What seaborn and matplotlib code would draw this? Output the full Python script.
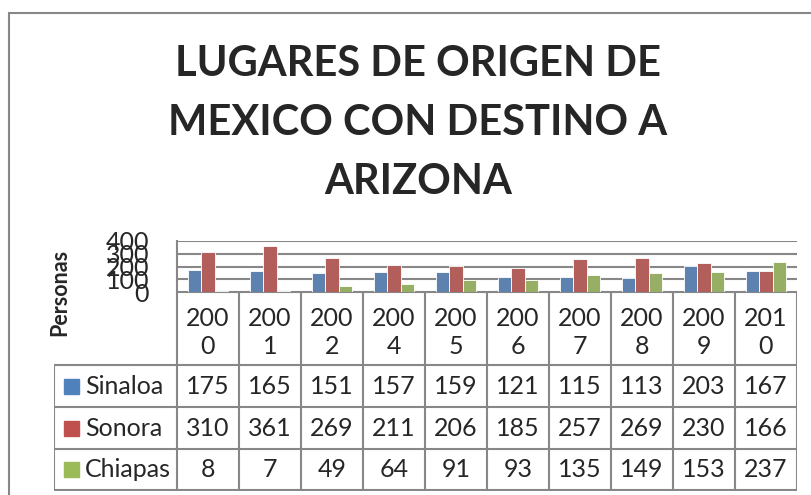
import matplotlib
matplotlib.use("Agg")
import matplotlib.pyplot as plt
from matplotlib.lines import Line2D
from matplotlib.patches import Rectangle
import pandas as pd
import seaborn as sns

# data
years = ["2000", "2001", "2002", "2004", "2005", "2006", "2007", "2008", "2009", "2010"]
estados = ["Sinaloa", "Sonora", "Chiapas"]
sinaloa = [175, 165, 151, 157, 159, 121, 115, 113, 203, 167]
sonora = [310, 361, 269, 211, 206, 185, 257, 269, 230, 166]
chiapas = [8, 7, 49, 64, 91, 93, 135, 149, 153, 237]
colores = ["#4F81BD", "#C0504D", "#9BBB59"]

df = pd.DataFrame({"Año": years * 3,
                   "Estado": [e for e in estados for _ in years],
                   "Personas": sinaloa + sonora + chiapas})

sns.set_theme(style="white")
plt.rcParams['font.family'] = ['Lato', 'DejaVu Sans']

W, H = 812, 495
fig = plt.figure(figsize=(W / 100, H / 100), dpi=100)


# pixel box -> figure fraction
def box(x0, y0, x1, y1):
    return [x0 / W, 1 - y1 / H, (x1 - x0) / W, (y1 - y0) / H]


def fx(x):
    return x / W


def fy(y):
    return 1 - y / H


grey = "#878787"

# chart border (only top and left are visible)
fig.add_artist(Line2D([fx(9), fx(9)], [fy(13), 0], color=grey, lw=1.5))
fig.add_artist(Line2D([fx(9), 1], [fy(13), fy(13)], color=grey, lw=1.5))

fig.text(fx(418), fy(123), "LUGARES DE ORIGEN DE\nMEXICO CON DESTINO A\nARIZONA",
         ha="center", va="center", fontsize=30, fontweight="bold", linespacing=1.68)

# bars
ax = fig.add_axes(box(177, 241, 797, 292))
sns.barplot(data=df, x="Año", y="Personas", hue="Estado", palette=colores,
            width=0.66, ax=ax, legend=False, edgecolor="white", linewidth=0.6)
ax.set_ylim(0, 400)
ax.set_xlim(-0.5, 9.5)
ax.set_yticks([0, 100, 200, 300, 400])
ax.set_yticklabels(["0", "100", "200", "300", "400"], fontsize=18)
ax.tick_params(axis="y", length=0, pad=20)
ax.set_xticks([])
ax.set_xlabel("")
ax.set_ylabel("")
ax.grid(axis="y", color=grey, lw=1.5)
ax.set_axisbelow(True)
for s in ["top", "right", "bottom"]:
    ax.spines[s].set_visible(False)
ax.spines["left"].set_color(grey)
ax.spines["left"].set_linewidth(1.5)

fig.text(fx(60), fy(292), "Personas", rotation=90, ha="center", va="center",
         fontsize=15.5, fontweight="bold")

# data table below the bars
tab = fig.add_axes(box(54, 292, 797, 491))
col_w = 62
left_w = 123 / col_w
tab.set_xlim(-0.5 - left_w, 9.5)
tab.set_ylim(491, 292)
tab.axis("off")

row_edges = [292, 365, 407, 449, 490]
tab.hlines(row_edges[0], -0.5, 9.5, color=grey, lw=1.5)
tab.hlines(row_edges[1:], -0.5 - left_w, 9.5, color=grey, lw=1.5)
for i in range(11):
    tab.vlines(i - 0.5, row_edges[0], row_edges[-1], color=grey, lw=1.5)
tab.vlines(-0.5 - left_w, row_edges[1], row_edges[-1], color=grey, lw=1.5)

for i, y in enumerate(years):
    tab.text(i, 318, y[:3], ha="center", va="center", fontsize=18)
    tab.text(i, 347, y[3:], ha="center", va="center", fontsize=18)

valores = [sinaloa, sonora, chiapas]
for r, (nombre, vals, c) in enumerate(zip(estados, valores, colores)):
    yc = (row_edges[r + 1] + row_edges[r + 2]) / 2
    x_sq = -0.5 - left_w + 10 / col_w
    tab.add_patch(Rectangle((x_sq, yc - 7.5), 15 / col_w, 15, color=c))
    tab.text(-0.5 - left_w + 31 / col_w, yc, nombre, ha="left", va="center", fontsize=18)
    for i, v in enumerate(vals):
        tab.text(i, yc, str(v), ha="center", va="center", fontsize=18)

fig.savefig("out.png", dpi=100)
